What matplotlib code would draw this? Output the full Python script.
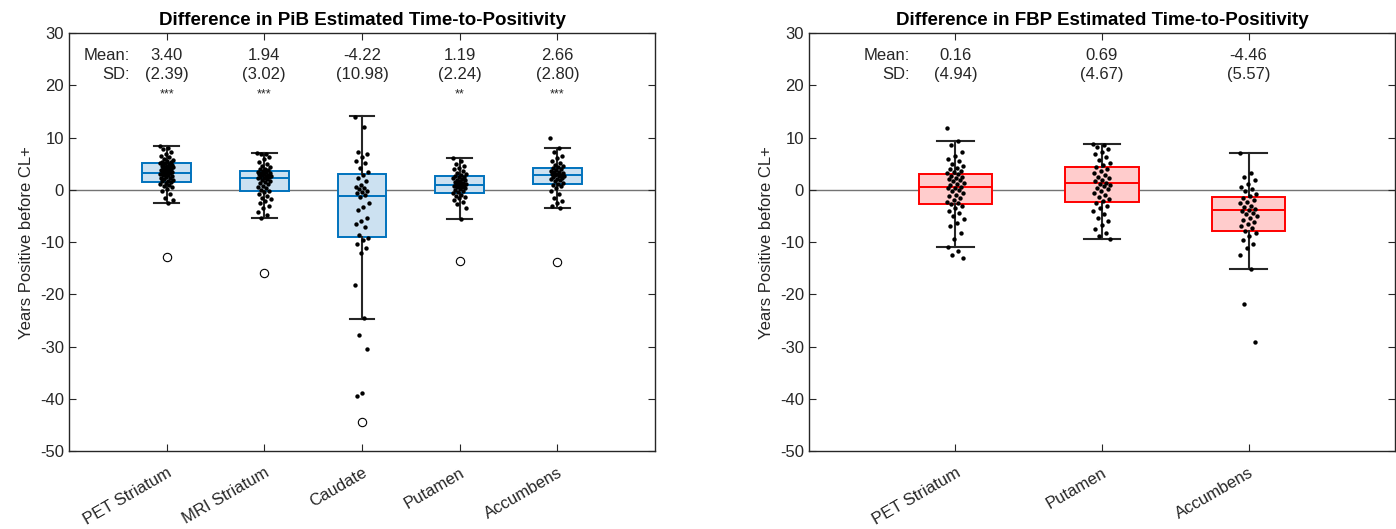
import numpy as np
import matplotlib
matplotlib.use('Agg')
import matplotlib.pyplot as plt

plt.rcParams['font.family'] = ['Liberation Sans', 'DejaVu Sans']
plt.rcParams['axes.unicode_minus'] = False

# ---- left panel: PiB ----
pib_labels = ["PET Striatum", "MRI Striatum", "Caudate", "Putamen", "Accumbens"]
pib_mean = ["3.40", "1.94", "-4.22", "1.19", "2.66"]
pib_sd = ["(2.39)", "(3.02)", "(10.98)", "(2.24)", "(2.80)"]
pib_sig = ["***", "***", "", "**", "***"]

# box stats: median, q1, q3, whisker low, whisker high
pib_med = [3.2, 2.3, -1.1, 1.0, 2.8]
pib_q1 = [1.5, -0.2, -9.0, -0.6, 1.1]
pib_q3 = [5.2, 3.6, 3.0, 2.7, 4.2]
pib_wlo = [-2.5, -5.3, -24.7, -5.5, -3.4]
pib_whi = [8.4, 7.1, 14.1, 6.0, 8.0]
pib_out = [[-12.9], [-15.9], [-44.4], [-13.6], [-13.8]]

pib_pet_str = [8.4, 8.0, 7.8, 7.2, 6.9, 6.5, 6.2, 5.9, 5.8, 5.6, 5.4, 5.3, 5.2, 5.1,
               4.9, 4.8, 4.7, 4.6, 4.5, 4.5, 4.4, 4.3, 4.2, 4.1, 4.0, 3.9, 3.8, 3.7,
               3.6, 3.5, 3.4, 3.3, 3.2, 3.1, 3.0, 2.9, 2.8, 2.7, 2.5, 2.3, 2.2, 2.0,
               1.9, 1.7, 1.6, 1.5, 1.4, 1.2, 1.0, 0.8, 0.5, 0.2, -0.3, -0.8, -1.5,
               -2.0, -2.5]
pib_mri_str = [7.1, 6.9, 6.8, 6.3, 5.9, 5.4, 5.0, 4.6, 4.3, 4.0, 3.9, 3.8, 3.6, 3.5,
               3.4, 3.3, 3.2, 3.1, 3.0, 2.9, 2.8, 2.7, 2.6, 2.5, 2.4, 2.3, 2.2, 2.1,
               1.9, 1.7, 1.5, 1.3, 1.1, 0.8, 0.5, 0.3, 0.0, -0.2, -0.4, -0.8, -1.1,
               -1.5, -1.8, -2.2, -2.6, -3.0, -3.5, -4.2, -4.8, -5.3]
pib_caudate = [14.0, 12.1, 7.2, 6.8, 6.3, 5.6, 5.1, 4.2, 3.5, 2.8, 2.2, 1.6, 0.9,
               0.5, 0.3, 0.1, -0.3, -0.5, -0.7, -1.0, -1.4, -2.6, -3.2, -3.9, -5.3,
               -5.9, -6.5, -7.1, -8.7, -9.2, -9.6, -10.4, -11.2, -12.1, -18.2, -24.5,
               -27.7, -30.4, -38.9, -39.5]
pib_putamen = [6.0, 5.5, 5.0, 4.6, 4.2, 3.9, 3.6, 3.3, 3.0, 2.8, 2.6, 2.5, 2.4, 2.2,
               2.0, 1.9, 1.8, 1.6, 1.5, 1.4, 1.3, 1.2, 1.1, 1.0, 0.9, 0.8, 0.7, 0.6,
               0.5, 0.3, 0.1, -0.1, -0.3, -0.5, -0.7, -0.9, -1.1, -1.4, -1.6, -1.9,
               -2.3, -2.8, -3.5, -5.5]
pib_accumbens = [10.0, 8.0, 7.2, 6.5, 6.0, 5.5, 5.1, 4.8, 4.5, 4.3, 4.1, 3.9, 3.8,
                 3.7, 3.5, 3.4, 3.3, 3.1, 3.0, 2.9, 2.8, 2.7, 2.6, 2.5, 2.3, 2.1,
                 2.0, 1.8, 1.6, 1.4, 1.2, 1.0, 0.7, 0.3, -0.2, -0.8, -1.5, -2.1,
                 -2.6, -3.0, -3.4]
pib_points = [pib_pet_str, pib_mri_str, pib_caudate, pib_putamen, pib_accumbens]

# ---- right panel: FBP ----
fbp_labels = ["PET Striatum", "Putamen", "Accumbens"]
fbp_mean = ["0.16", "0.69", "-4.46"]
fbp_sd = ["(4.94)", "(4.67)", "(5.57)"]

fbp_med = [0.6, 1.35, -3.9]
fbp_q1 = [-2.7, -2.3, -7.9]
fbp_q3 = [3.1, 4.35, -1.3]
fbp_wlo = [-10.9, -9.5, -15.2]
fbp_whi = [9.3, 8.8, 7.0]

fbp_pet_str = [11.9, 9.3, 8.5, 7.2, 6.4, 5.9, 5.5, 5.0, 4.6, 4.2, 3.9, 3.7, 3.4, 3.2,
               3.0, 2.7, 2.4, 2.2, 2.0, 1.8, 1.6, 1.4, 1.2, 0.9, 0.6, 0.4, 0.3, 0.0,
               -0.3, -0.6, -0.9, -1.2, -1.6, -2.0, -2.3, -2.5, -2.8, -3.1, -3.5,
               -4.0, -4.4, -5.0, -5.6, -6.3, -7.0, -8.2, -9.5, -10.9, -11.7, -12.4,
               -13.1]
fbp_putamen = [8.8, 8.6, 8.2, 7.8, 7.3, 6.8, 6.2, 5.7, 5.2, 4.8, 4.4, 4.0, 3.6, 3.2,
               2.8, 2.5, 2.2, 1.9, 1.6, 1.4, 1.2, 1.0, 0.7, 0.4, 0.1, -0.3, -0.7,
               -1.0, -1.4, -1.8, -2.2, -2.6, -3.0, -3.5, -4.0, -4.6, -5.3, -6.0,
               -6.8, -7.5, -8.2, -8.8, -9.5]
fbp_accumbens = [7.0, 3.2, 2.4, 1.8, 1.2, 0.6, 0.2, -0.3, -0.8, -1.2, -1.5, -1.9,
                 -2.3, -2.6, -3.0, -3.3, -3.6, -3.9, -4.1, -4.4, -4.7, -5.0, -5.4,
                 -5.8, -6.2, -6.6, -7.0, -7.4, -7.8, -8.3, -8.9, -9.6, -10.3, -11.2,
                 -12.5, -15.2, -21.8, -29.2]
fbp_points = [fbp_pet_str, fbp_putamen, fbp_accumbens]

txt = (0.15, 0.15, 0.15)


def jitter(n, half):
    # deterministic spread, golden ratio sequence
    k = np.arange(n)
    return ((k * 0.6180339887) % 1.0 - 0.5) * 2 * half


def panel(ax, labels, med, q1, q3, wlo, whi, outs, points, means, sds, sig,
          edge, face, title, xmax, mean_x, jit):
    pos = np.arange(1, len(labels) + 1)
    stats = []
    for i in range(len(labels)):
        stats.append(dict(med=med[i], q1=q1[i], q3=q3[i], whislo=wlo[i],
                          whishi=whi[i], fliers=outs[i] if outs else []))
    ax.axhline(0, color=(0.45, 0.45, 0.45), lw=1.0, zorder=1)
    ax.bxp(stats, positions=pos, widths=0.5, capwidths=0.25, patch_artist=True,
           showfliers=bool(outs),
           boxprops=dict(facecolor=face, edgecolor=edge, linewidth=1.4),
           medianprops=dict(color=edge, linewidth=1.4),
           whiskerprops=dict(color=(0.15, 0.15, 0.15), linewidth=1.5),
           capprops=dict(color=(0.15, 0.15, 0.15), linewidth=1.5),
           flierprops=dict(marker='o', markerfacecolor='none',
                           markeredgecolor='black', markersize=6,
                           markeredgewidth=0.8),
           manage_ticks=False, zorder=2)
    for i, vals in enumerate(points):
        ax.scatter(pos[i] + jitter(len(vals), jit), vals, s=10, color='black',
                   zorder=4, linewidths=0)

    for i in range(len(labels)):
        ax.text(pos[i], 25.8, means[i], ha='center', va='center', fontsize=12, color=txt)
        ax.text(pos[i], 22.0, sds[i], ha='center', va='center', fontsize=12, color=txt)
        if sig and sig[i]:
            ax.text(pos[i], 18.3, sig[i], ha='center', va='center', fontsize=9, color=txt)
    ax.text(mean_x, 25.8, "Mean:", ha='right', va='center', fontsize=12, color=txt)
    ax.text(mean_x, 22.0, "SD:", ha='right', va='center', fontsize=12, color=txt)

    ax.set_xlim(0, xmax)
    ax.set_ylim(-50, 30)
    ax.set_yticks(np.arange(-50, 31, 10))
    ax.set_xticks(pos)
    ax.set_xticklabels(labels, rotation=30, ha='right', rotation_mode='anchor',
                       fontsize=12, color=txt)
    ax.tick_params(axis='both', direction='in', top=True, right=True, length=5,
                   width=0.8, colors=txt, labelsize=12)
    ax.tick_params(axis='x', pad=10)
    for s in ax.spines.values():
        s.set_color(txt)
        s.set_linewidth(1.0)
    ax.set_ylabel("Years Positive before CL+", fontsize=12, color=txt)
    ax.set_title(title, fontsize=13.5, fontweight='bold', pad=6)


fig = plt.figure(figsize=(13.96, 5.29), dpi=100)
ax1 = fig.add_axes([0.0494, 0.1474, 0.4198, 0.790])
ax2 = fig.add_axes([0.5795, 0.1474, 0.4198, 0.790])

panel(ax1, pib_labels, pib_med, pib_q1, pib_q3, pib_wlo, pib_whi, pib_out,
      pib_points, pib_mean, pib_sd, pib_sig, (0.0, 0.447, 0.741),
      (0.8, 0.882, 0.945), "Difference in PiB Estimated Time-to-Positivity",
      6, 0.62, 0.07)
panel(ax2, fbp_labels, fbp_med, fbp_q1, fbp_q3, fbp_wlo, fbp_whi, None,
      fbp_points, fbp_mean, fbp_sd, None, (1.0, 0.0, 0.0),
      (1.0, 0.8, 0.8), "Difference in FBP Estimated Time-to-Positivity",
      4, 0.69, 0.06)

fig.savefig("out.png", dpi=100)
